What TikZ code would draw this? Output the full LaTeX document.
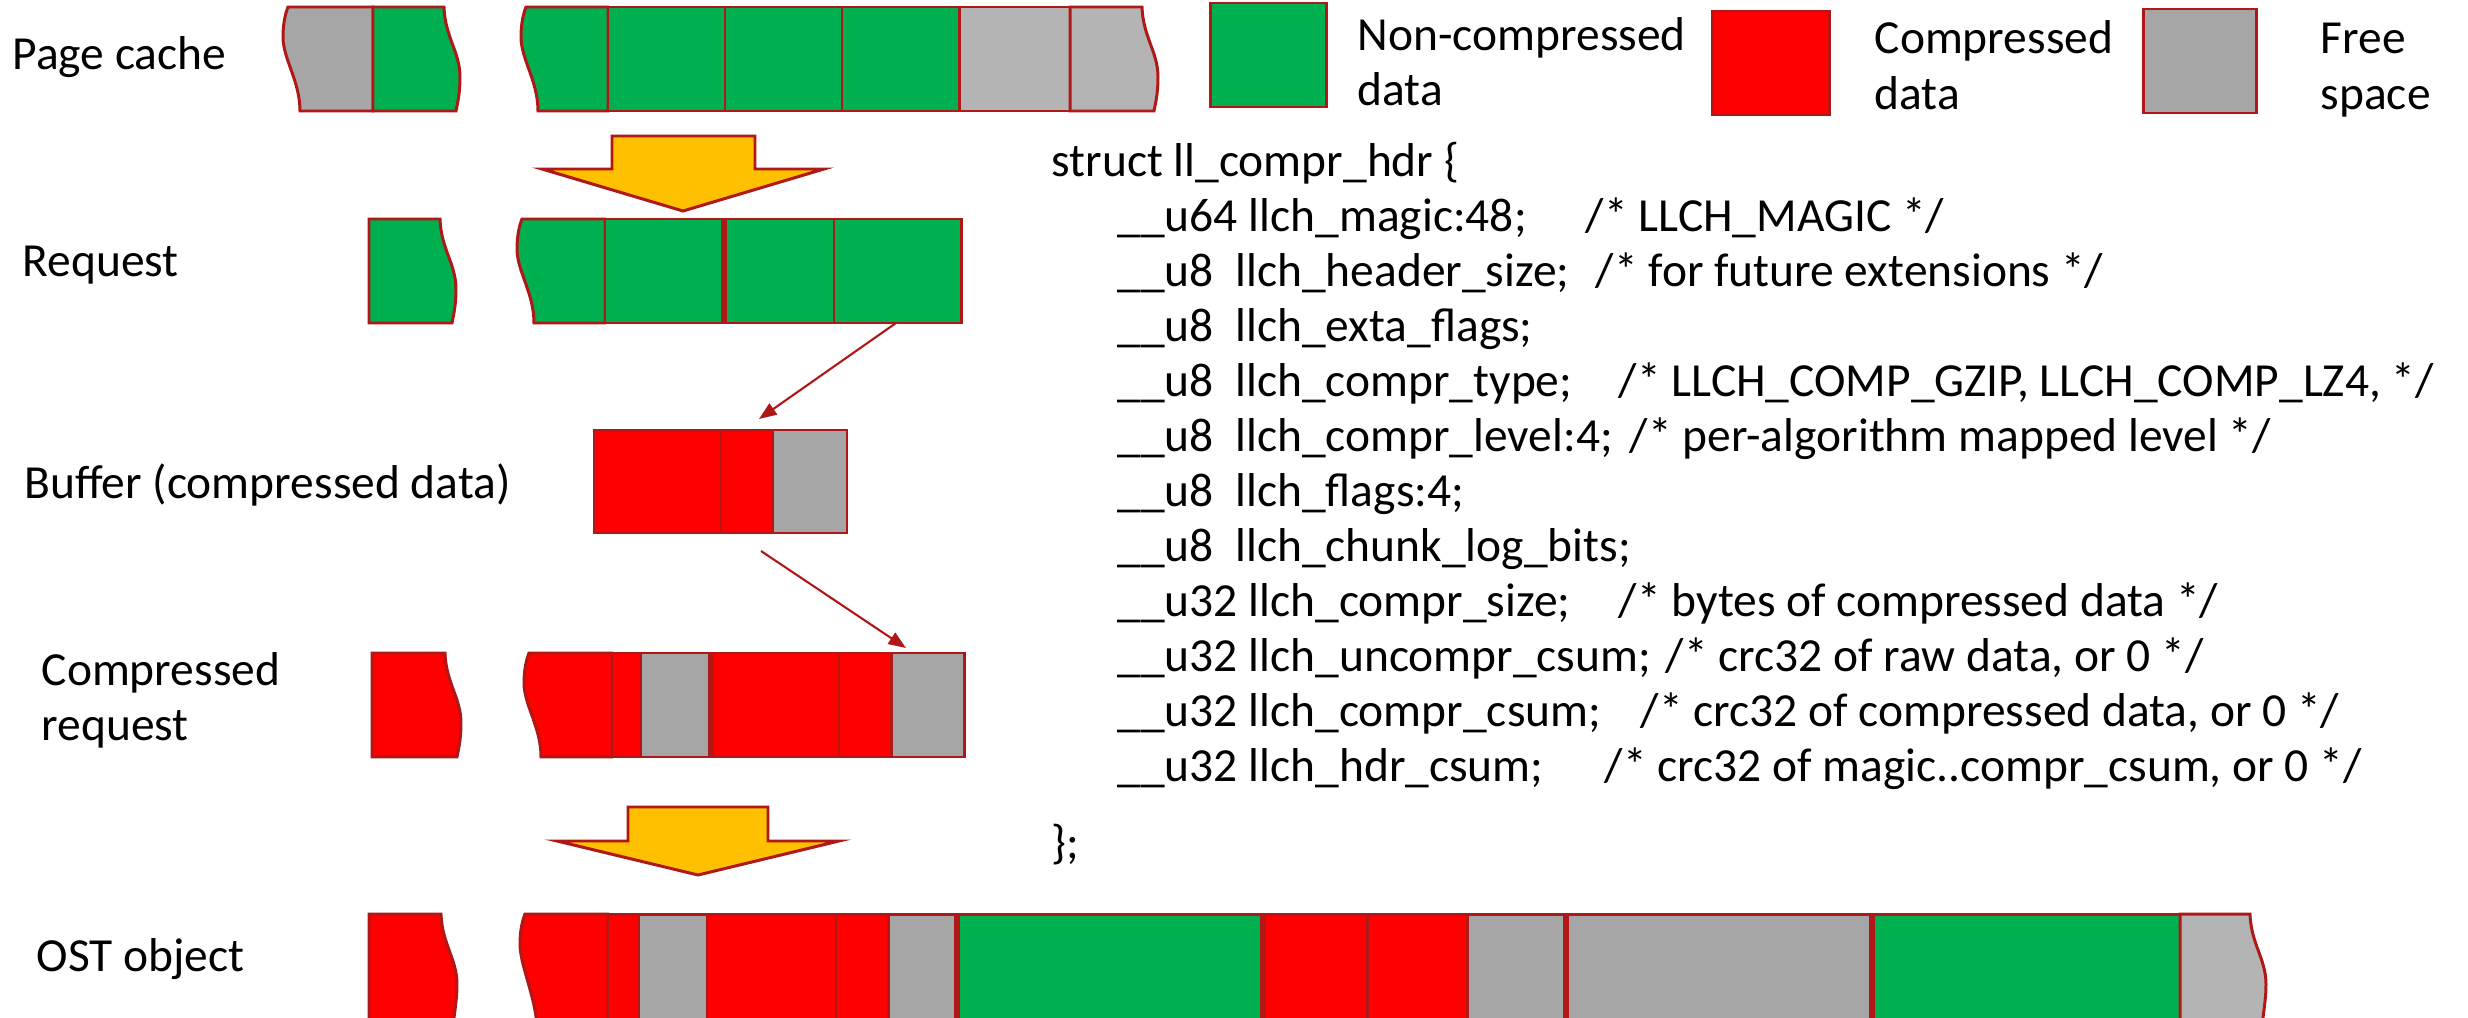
\documentclass[tikz,border=0pt]{standalone}
\usepackage{fontspec}
\setmainfont{Carlito}
\usetikzlibrary{arrows.meta}

\definecolor{edge}{HTML}{B01818}
\definecolor{datagreen}{HTML}{00B050}
\definecolor{datared}{HTML}{FF0000}
\definecolor{freegray}{HTML}{A6A6A6}
\definecolor{palegray}{HTML}{B4B4B4}
\definecolor{amber}{HTML}{FFC000}

\tikzset{
  seg/.style={draw=edge,line width=0.85pt},
  divider/.style={draw=edge,line width=1.7pt},
  fatarrow/.style={draw=edge,line width=0.85pt,fill=amber,line join=miter},
  link/.style={draw=edge,line width=0.6pt,-{Triangle[length=5pt,width=3.8pt]}},
  lbl/.style={anchor=base west,inner sep=0pt,font=\fontsize{13.5}{16}\selectfont},
  code/.style={anchor=base west,inner sep=0pt,font=\fontsize{13.5}{16}\selectfont},
}

% piece with a wavy left edge: x at top, right x, top, bottom, fill
\newcommand\fragl[5]{%
  \filldraw[seg,fill=#5] (#1,#3) -- (#2,#3) -- (#2,#4) -- ({#1+12},#4)
    .. controls ({#1+12},{#4-30}) and ({#1-5},{#3+52}) .. ({#1-5},{#3+30})
    .. controls ({#1-5},{#3+15}) and ({#1-2},{#3+5}) .. cycle;}
% piece with a wavy right edge: left x, x at top, top, bottom, fill
\newcommand\fragr[5]{%
  \filldraw[seg,fill=#5] (#1,#3) -- (#2,#3)
    .. controls ({#2+1},{#3+30}) and ({#2+16},{#3+45}) .. ({#2+16},{#3+70})
    .. controls ({#2+16},{#3+88}) and ({#2+13},{#3+98}) .. ({#2+12},#4)
    -- (#1,#4) -- cycle;}

\begin{document}
\begin{tikzpicture}[x=0.01cm,y=-0.01cm]
  \useasboundingbox (0,0) rectangle (2468,1018);

  % page cache
  \node[lbl] (pagecache) at (12,70) {Page cache};
  \fragl{288}{373}{7}{111}{freegray}
  \fragr{373}{444}{7}{111}{datagreen}
  \fragl{526}{608}{7}{111}{datagreen}
  \foreach \xa/\xb/\fc in {608/725/datagreen,725/842/datagreen,842/959/datagreen,959/1070/palegray}
    \filldraw[seg,fill=\fc] (\xa,7) rectangle (\xb,111);
  \fragr{1070}{1142}{7}{111}{palegray}

  % legend
  \filldraw[seg,fill=datagreen] (1210,3) rectangle (1326,107);
  \node[lbl] (lg-green1) at (1357,51) {Non-compressed};
  \node[lbl] (lg-green2) at (1357,106) {data};
  \filldraw[seg,fill=datared] (1712,11) rectangle (1829,115);
  \node[lbl] (lg-red1) at (1874,54) {Compressed};
  \node[lbl] (lg-red2) at (1874,110) {data};
  \filldraw[seg,fill=freegray] (2143,9) rectangle (2256,113);
  \node[lbl] (lg-gray1) at (2320,54) {Free};
  \node[lbl] (lg-gray2) at (2320,110) {space};

  % first big arrow
  \filldraw[fatarrow] (612,136) -- (755,136) -- (755,169) -- (824,169) -- (683,211)
    -- (542,169) -- (612,169) -- cycle;

  % request
  \node[lbl] (request) at (22,276) {Request};
  \fragr{369}{440}{219}{323}{datagreen}
  \fragl{522}{605}{219}{323}{datagreen}
  \foreach \xa/\xb/\fc in {605/724/datagreen,724/834/datagreen,834/961/datagreen}
    \filldraw[seg,fill=\fc] (\xa,219) rectangle (\xb,323);
  \draw[divider] (724,219) -- (724,323);

  % buffer
  \node[lbl] (buffer) at (24,498) {Buffer (compressed data)};
  \foreach \xa/\xb/\fc in {594/721/datared,721/773/datared,773/847/freegray}
    \filldraw[seg,fill=\fc] (\xa,430) rectangle (\xb,533);

  % thin arrows
  \coordinate (reqout) at (896,323);
  \coordinate (bufin) at (759,419);
  \draw[link] (reqout) -- (bufin);
  \coordinate (bufout) at (761,551);
  \coordinate (creqin) at (906,648);
  \draw[link] (bufout) -- (creqin);

  % compressed request
  \node[lbl] (creq1) at (41,685) {Compressed};
  \node[lbl] (creq2) at (41,740) {request};
  \fragr{372}{445}{653}{757}{datared}
  \fragl{529}{612}{653}{757}{datared}
  \foreach \xa/\xb/\fc in {612/641/datared,641/711/freegray,711/839/datared,839/891/datared,891/964/freegray}
    \filldraw[seg,fill=\fc] (\xa,653) rectangle (\xb,757);
  \draw[divider] (711,653) -- (711,757);

  % second big arrow
  \filldraw[fatarrow] (628,807) -- (768,807) -- (768,841) -- (839,841) -- (698,875)
    -- (557,841) -- (628,841) -- cycle;

  % OST object
  \node[lbl] (ost) at (36,971) {OST object};
  \fragr{369}{441}{914}{1030}{datared}
  \fragl{525}{608}{914}{1030}{datared}
  \foreach \xa/\xb/\fc in {608/639/datared,639/707/freegray,707/836/datared,836/888/datared,
      888/957/freegray,957/1263/datagreen,1263/1367/datared,1367/1467/datared,
      1467/1566/freegray,1566/1872/freegray,1872/2180/datagreen}
    \filldraw[seg,fill=\fc] (\xa,914) rectangle (\xb,1030);
  \fragr{2180}{2250}{914}{1030}{palegray}
  \foreach \xd in {957,1263,1566,1872}
    \draw[divider] (\xd,914) -- (\xd,1030);

  % header structure
  \node[code] (hdr0) at (1051,176) {struct ll\_compr\_hdr \{};
  \node[code] (hdr1) at (1117,231) {\makebox[4.68cm][l]{\_\_u64 llch\_magic:48;}/* LLCH\_MAGIC */};
  \node[code] (hdr2) at (1117,286) {\makebox[4.78cm][l]{\_\_u8\ \ llch\_header\_size;}/* for future extensions */};
  \node[code] (hdr3) at (1117,341) {\_\_u8\ \ llch\_exta\_flags;};
  \node[code] (hdr4) at (1117,396) {\makebox[5.01cm][l]{\_\_u8\ \ llch\_compr\_type;}/* LLCH\_COMP\_GZIP, LLCH\_COMP\_LZ4, */};
  \node[code] (hdr5) at (1117,451) {\makebox[5.12cm][l]{\_\_u8\ \ llch\_compr\_level:4;}/* per-algorithm mapped level */};
  \node[code] (hdr6) at (1117,506) {\_\_u8\ \ llch\_flags:4;};
  \node[code] (hdr7) at (1117,561) {\_\_u8\ \ llch\_chunk\_log\_bits;};
  \node[code] (hdr8) at (1117,616) {\makebox[5.01cm][l]{\_\_u32 llch\_compr\_size;}/* bytes of compressed data */};
  \node[code] (hdr9) at (1117,671) {\makebox[5.48cm][l]{\_\_u32 llch\_uncompr\_csum;}/* crc32 of raw data, or 0 */};
  \node[code] (hdr10) at (1117,726) {\makebox[5.23cm][l]{\_\_u32 llch\_compr\_csum;}/* crc32 of compressed data, or 0 */};
  \node[code] (hdr11) at (1117,781) {\makebox[4.87cm][l]{\_\_u32 llch\_hdr\_csum;}/* crc32 of magic..compr\_csum, or 0 */};
  \node[code] (hdr12) at (1051,858) {\};};
\end{tikzpicture}
\end{document}
